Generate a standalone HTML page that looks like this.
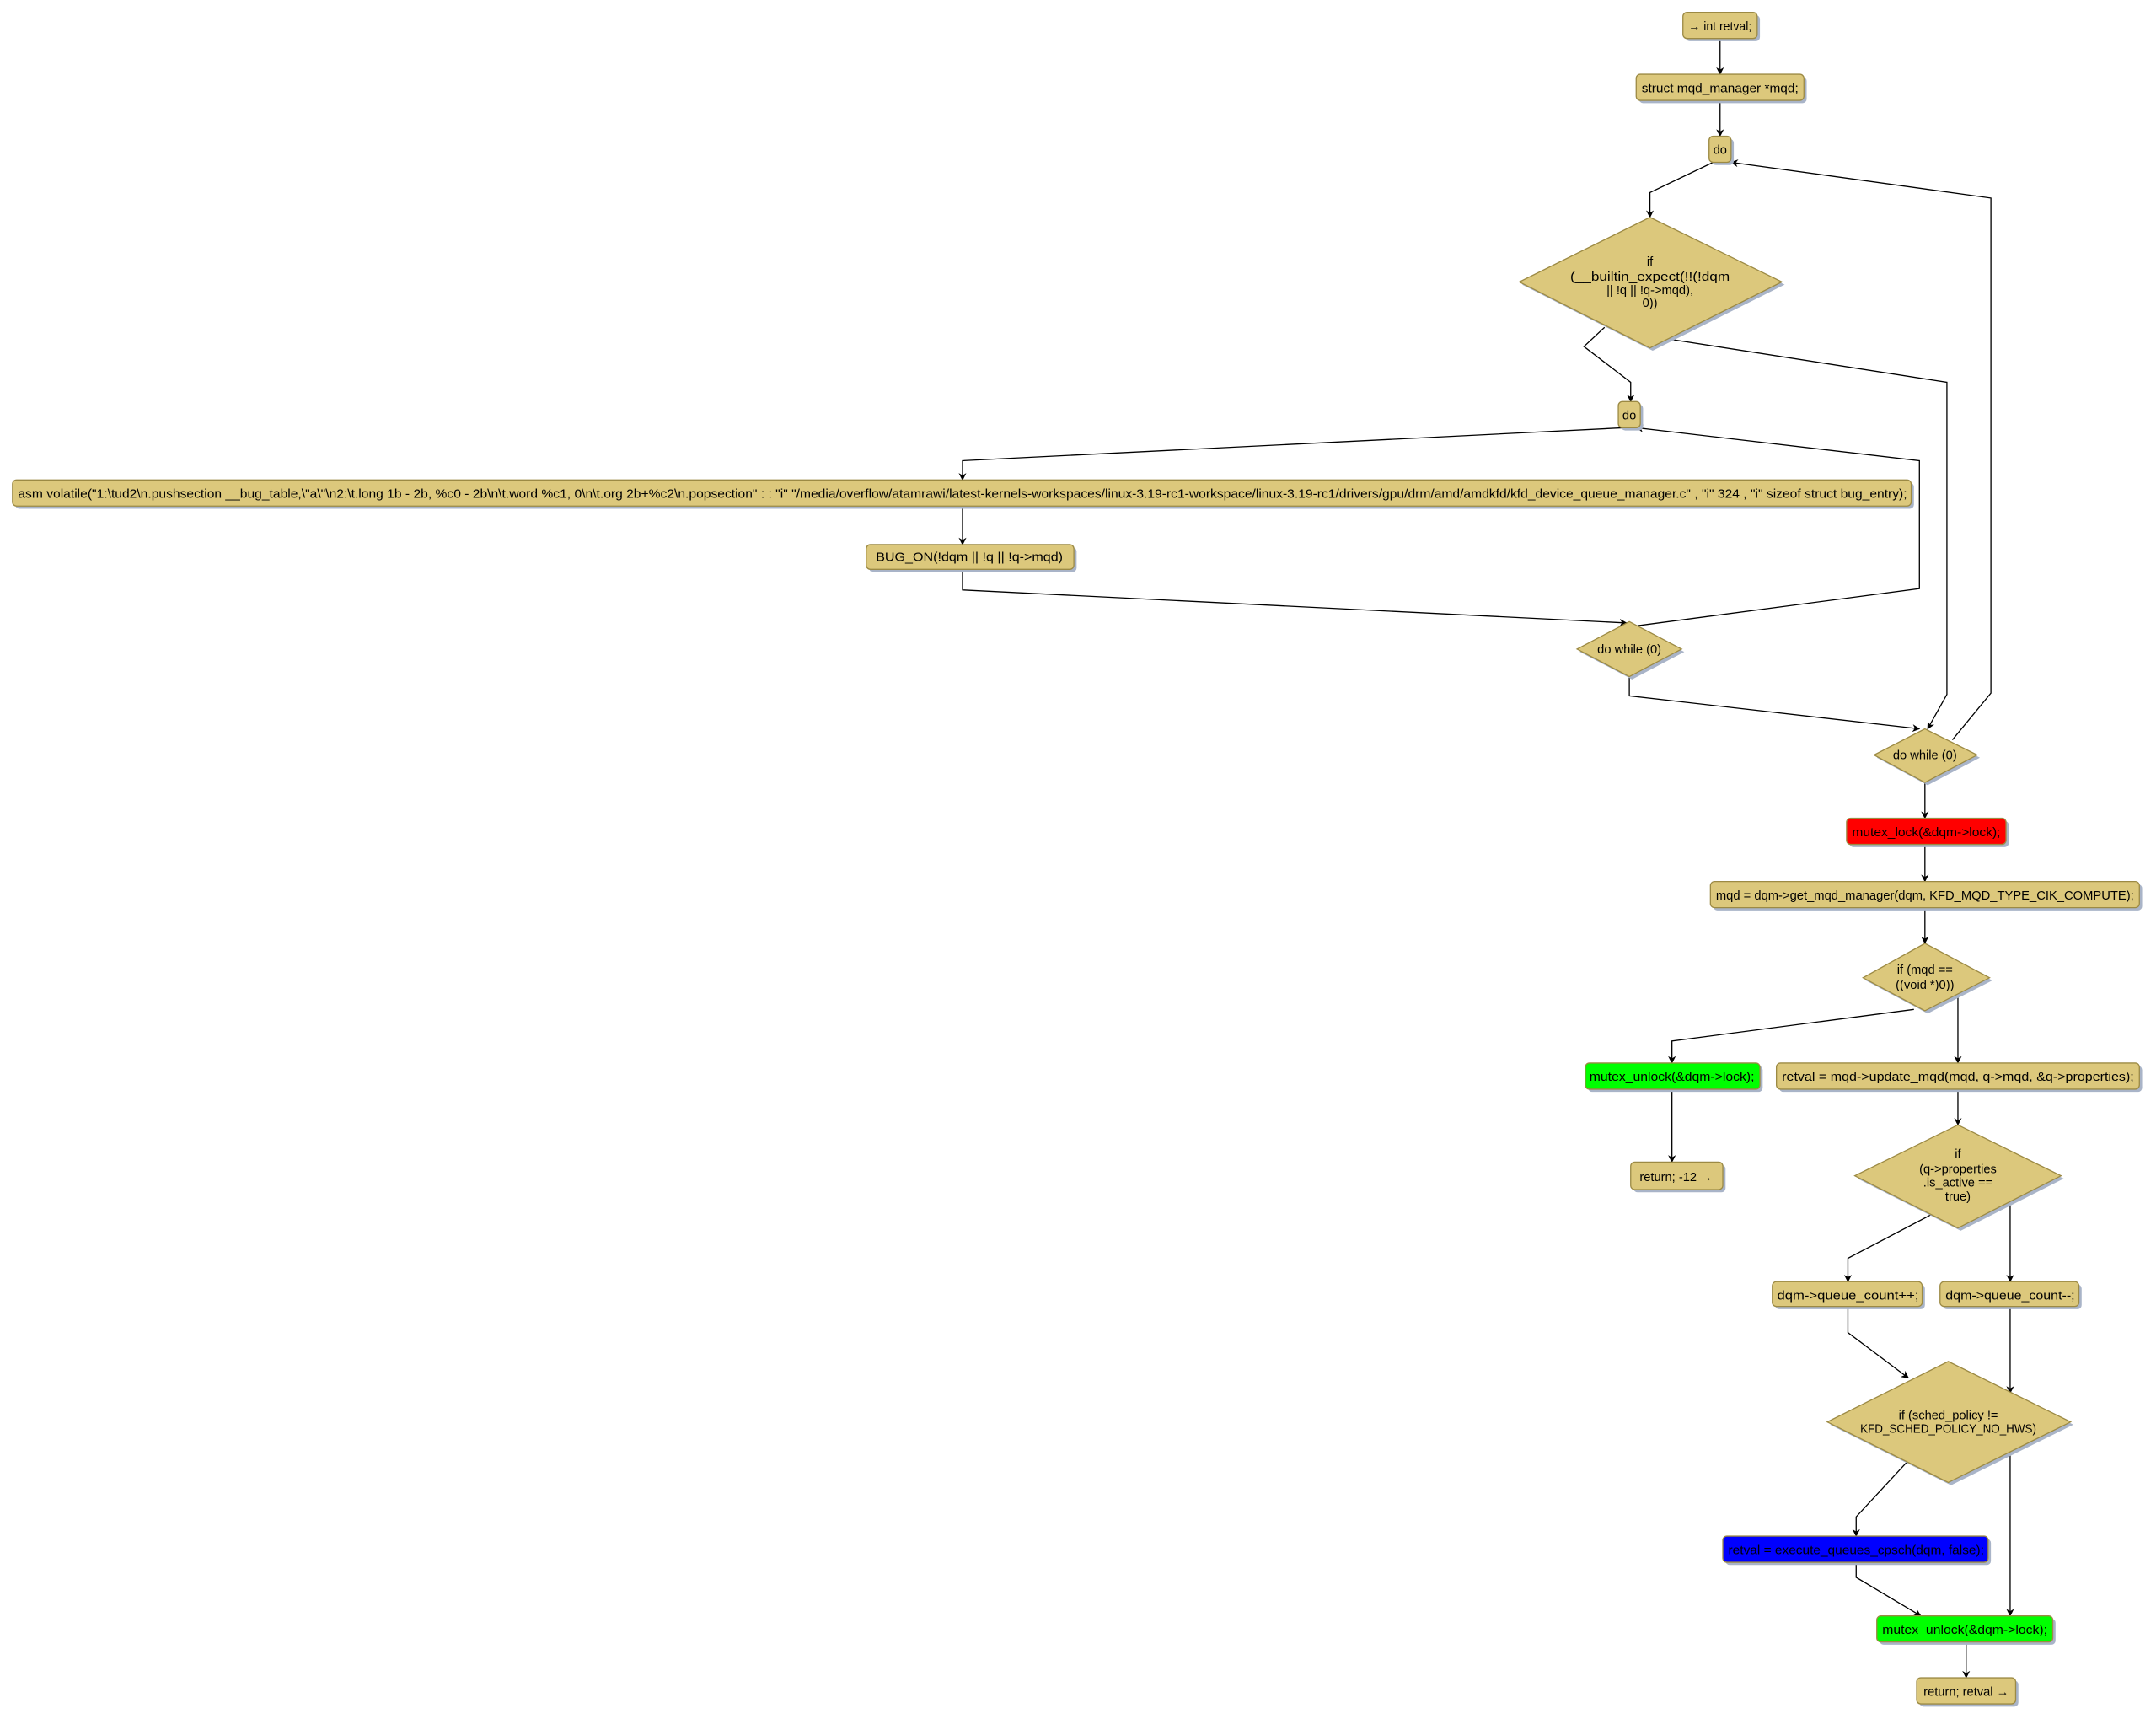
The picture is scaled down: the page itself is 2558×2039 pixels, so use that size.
<!DOCTYPE html>
<html><head><meta charset="utf-8"><style>html,body{margin:0;padding:0;background:#fff}svg{display:block}</style></head>
<body>
<svg width="2558" height="2039" viewBox="0 0 1568 1250" xmlns="http://www.w3.org/2000/svg" font-family="'Liberation Sans', 'DejaVu Sans', sans-serif" font-size="9">
<defs>
<marker id="a" viewBox="0 0 10 10" refX="9" refY="5" markerWidth="7" markerHeight="7" orient="auto-start-reverse"><path d="M0,0 L10,5 L0,10 L3,5 z" fill="#000"/></marker>
</defs>
<g fill="none" stroke="#000" stroke-width="0.8" marker-end="url(#a)">
<polyline points="1251,28 1251,54"/>
<polyline points="1251,73 1251,99"/>
<polyline points="1246,118 1200,140 1200,158"/>
<polyline points="1420,538 1448,504 1448,144 1259,118"/>
<polyline points="1167,238 1152,252 1186,278 1186,292"/>
<polyline points="1210,246 1416,278 1416,505 1402,530"/>
<polyline points="1182,311 700,335 700,349"/>
<polyline points="700,368 700,396"/>
<polyline points="700,414 700,429 1183,453"/>
<polyline points="1191,455 1396,428 1396,335 1190,311"/>
<polyline points="1185,492 1185,506 1396,530"/>
<polyline points="1400,569 1400,595"/>
<polyline points="1400,614 1400,641"/>
<polyline points="1400,660 1400,686"/>
<polyline points="1392,734 1216,757 1216,773"/>
<polyline points="1424,720 1424,773"/>
<polyline points="1216,792 1216,845"/>
<polyline points="1424,792 1424,818"/>
<polyline points="1405,883 1344,915 1344,932"/>
<polyline points="1462,873 1462,932"/>
<polyline points="1344,950 1344,969 1388,1002"/>
<polyline points="1462,950 1462,1013"/>
<polyline points="1388,1062 1350,1103 1350,1117"/>
<polyline points="1462,1055 1462,1175"/>
<polyline points="1350,1136 1350,1147 1397,1175"/>
<polyline points="1430,1194 1430,1220"/>
</g>
<g stroke-width="0.8">
<!-- shadows -->
<g fill="#a9b4c8" stroke="none">
<rect x="1226" y="11" width="54" height="19" rx="3"/>
<rect x="1192" y="56" width="122" height="19" rx="3"/>
<rect x="1245" y="101" width="16" height="19" rx="3"/>
<polygon points="1202,160 1298,207 1202,255 1107,207"/>
<rect x="1179" y="294" width="16" height="19" rx="3"/>
<rect x="11" y="351" width="1381" height="19" rx="3"/>
<rect x="632" y="398" width="151" height="18" rx="3"/>
<polygon points="1187,454 1225,474 1187,494 1149,474"/>
<polygon points="1402,532 1440,551 1402,571 1365,551"/>
<rect x="1345" y="597" width="116" height="19" rx="3"/>
<rect x="1246" y="643" width="312" height="19" rx="3"/>
<polygon points="1402,688 1449,713 1402,737 1357,713"/>
<rect x="1155" y="775" width="127" height="19" rx="3"/>
<rect x="1294" y="775" width="264" height="19" rx="3"/>
<rect x="1188" y="847" width="67" height="20" rx="3"/>
<polygon points="1426,820 1501,857 1426,895 1351,857"/>
<rect x="1291" y="934" width="109" height="18" rx="3"/>
<rect x="1413" y="934" width="101" height="18" rx="3"/>
<polygon points="1419,992 1508,1036 1419,1080 1331,1036"/>
<rect x="1255" y="1119" width="193" height="19" rx="3"/>
<rect x="1367" y="1177" width="128" height="19" rx="3"/>
<rect x="1396" y="1222" width="72" height="19" rx="3"/>
</g>
<g fill="#dcc87c" stroke="#9c8a44">
<rect x="1224" y="9" width="54" height="19" rx="3"/>
<rect x="1190" y="54" width="122" height="19" rx="3"/>
<rect x="1243" y="99" width="16" height="19" rx="3"/>
<polygon points="1200,158 1296,205 1200,253 1105,205"/>
<rect x="1177" y="292" width="16" height="19" rx="3"/>
<rect x="9" y="349" width="1381" height="19" rx="3"/>
<rect x="630" y="396" width="151" height="18" rx="3"/>
<polygon points="1185,452 1223,472 1185,492 1147,472"/>
<polygon points="1400,530 1438,549 1400,569 1363,549"/>
<rect x="1343" y="595" width="116" height="19" rx="3" fill="#ff0000"/>
<rect x="1244" y="641" width="312" height="19" rx="3"/>
<polygon points="1400,686 1447,711 1400,735 1355,711"/>
<rect x="1153" y="773" width="127" height="19" rx="3" fill="#00ff00"/>
<rect x="1292" y="773" width="264" height="19" rx="3"/>
<rect x="1186" y="845" width="67" height="20" rx="3"/>
<polygon points="1424,818 1499,855 1424,893 1349,855"/>
<rect x="1289" y="932" width="109" height="18" rx="3"/>
<rect x="1411" y="932" width="101" height="18" rx="3"/>
<polygon points="1417,990 1506,1034 1417,1078 1329,1034"/>
<rect x="1253" y="1117" width="193" height="19" rx="3" fill="#0000ff"/>
<rect x="1365" y="1175" width="128" height="19" rx="3" fill="#00ff00"/>
<rect x="1394" y="1220" width="72" height="19" rx="3"/>
</g>
</g>
<g fill="#000" text-anchor="middle">
<text x="1251" y="22" textLength="46" lengthAdjust="spacingAndGlyphs">→ int retval;</text>
<text x="1251" y="67" textLength="114" lengthAdjust="spacingAndGlyphs">struct mqd_manager *mqd;</text>
<text x="1251" y="112">do</text>
<text x="1200" y="193">if</text>
<text x="1200" y="204" textLength="116" lengthAdjust="spacingAndGlyphs">(__builtin_expect(!!(!dqm</text>
<text x="1200" y="214">|| !q || !q-&gt;mqd),</text>
<text x="1200" y="223">0))</text>
<text x="1185" y="305">do</text>
<text x="700" y="362" textLength="1374" lengthAdjust="spacingAndGlyphs">asm volatile("1:\tud2\n.pushsection __bug_table,\"a\"\n2:\t.long 1b - 2b, %c0 - 2b\n\t.word %c1, 0\n\t.org 2b+%c2\n.popsection" : : "i" "/media/overflow/atamrawi/latest-kernels-workspaces/linux-3.19-rc1-workspace/linux-3.19-rc1/drivers/gpu/drm/amd/amdkfd/kfd_device_queue_manager.c" , "i" 324 , "i" sizeof struct bug_entry);</text>
<text x="705" y="408" textLength="136" lengthAdjust="spacingAndGlyphs">BUG_ON(!dqm || !q || !q-&gt;mqd)</text>
<text x="1185" y="475">do while (0)</text>
<text x="1400" y="552">do while (0)</text>
<text x="1401" y="608" textLength="108" lengthAdjust="spacingAndGlyphs">mutex_lock(&amp;dqm-&gt;lock);</text>
<text x="1400" y="654" textLength="304" lengthAdjust="spacingAndGlyphs">mqd = dqm-&gt;get_mqd_manager(dqm, KFD_MQD_TYPE_CIK_COMPUTE);</text>
<text x="1400" y="708">if (mqd ==</text>
<text x="1400" y="719">((void *)0))</text>
<text x="1216" y="786" textLength="120" lengthAdjust="spacingAndGlyphs">mutex_unlock(&amp;dqm-&gt;lock);</text>
<text x="1424" y="786" textLength="256" lengthAdjust="spacingAndGlyphs">retval = mqd-&gt;update_mqd(mqd, q-&gt;mqd, &amp;q-&gt;properties);</text>
<text x="1219" y="859">return; -12 →</text>
<text x="1424" y="842">if</text>
<text x="1424" y="853">(q-&gt;properties</text>
<text x="1424" y="863">.is_active ==</text>
<text x="1424" y="873">true)</text>
<text x="1344" y="945" textLength="103" lengthAdjust="spacingAndGlyphs">dqm-&gt;queue_count++;</text>
<text x="1462" y="945" textLength="94" lengthAdjust="spacingAndGlyphs">dqm-&gt;queue_count--;</text>
<text x="1417" y="1032">if (sched_policy !=</text>
<text x="1417" y="1042" textLength="128" lengthAdjust="spacingAndGlyphs">KFD_SCHED_POLICY_NO_HWS)</text>
<text x="1350" y="1130" textLength="186" lengthAdjust="spacingAndGlyphs">retval = execute_queues_cpsch(dqm, false);</text>
<text x="1429" y="1188" textLength="120" lengthAdjust="spacingAndGlyphs">mutex_unlock(&amp;dqm-&gt;lock);</text>
<text x="1430" y="1233">return; retval →</text>
</g>
</svg>
</body></html>
